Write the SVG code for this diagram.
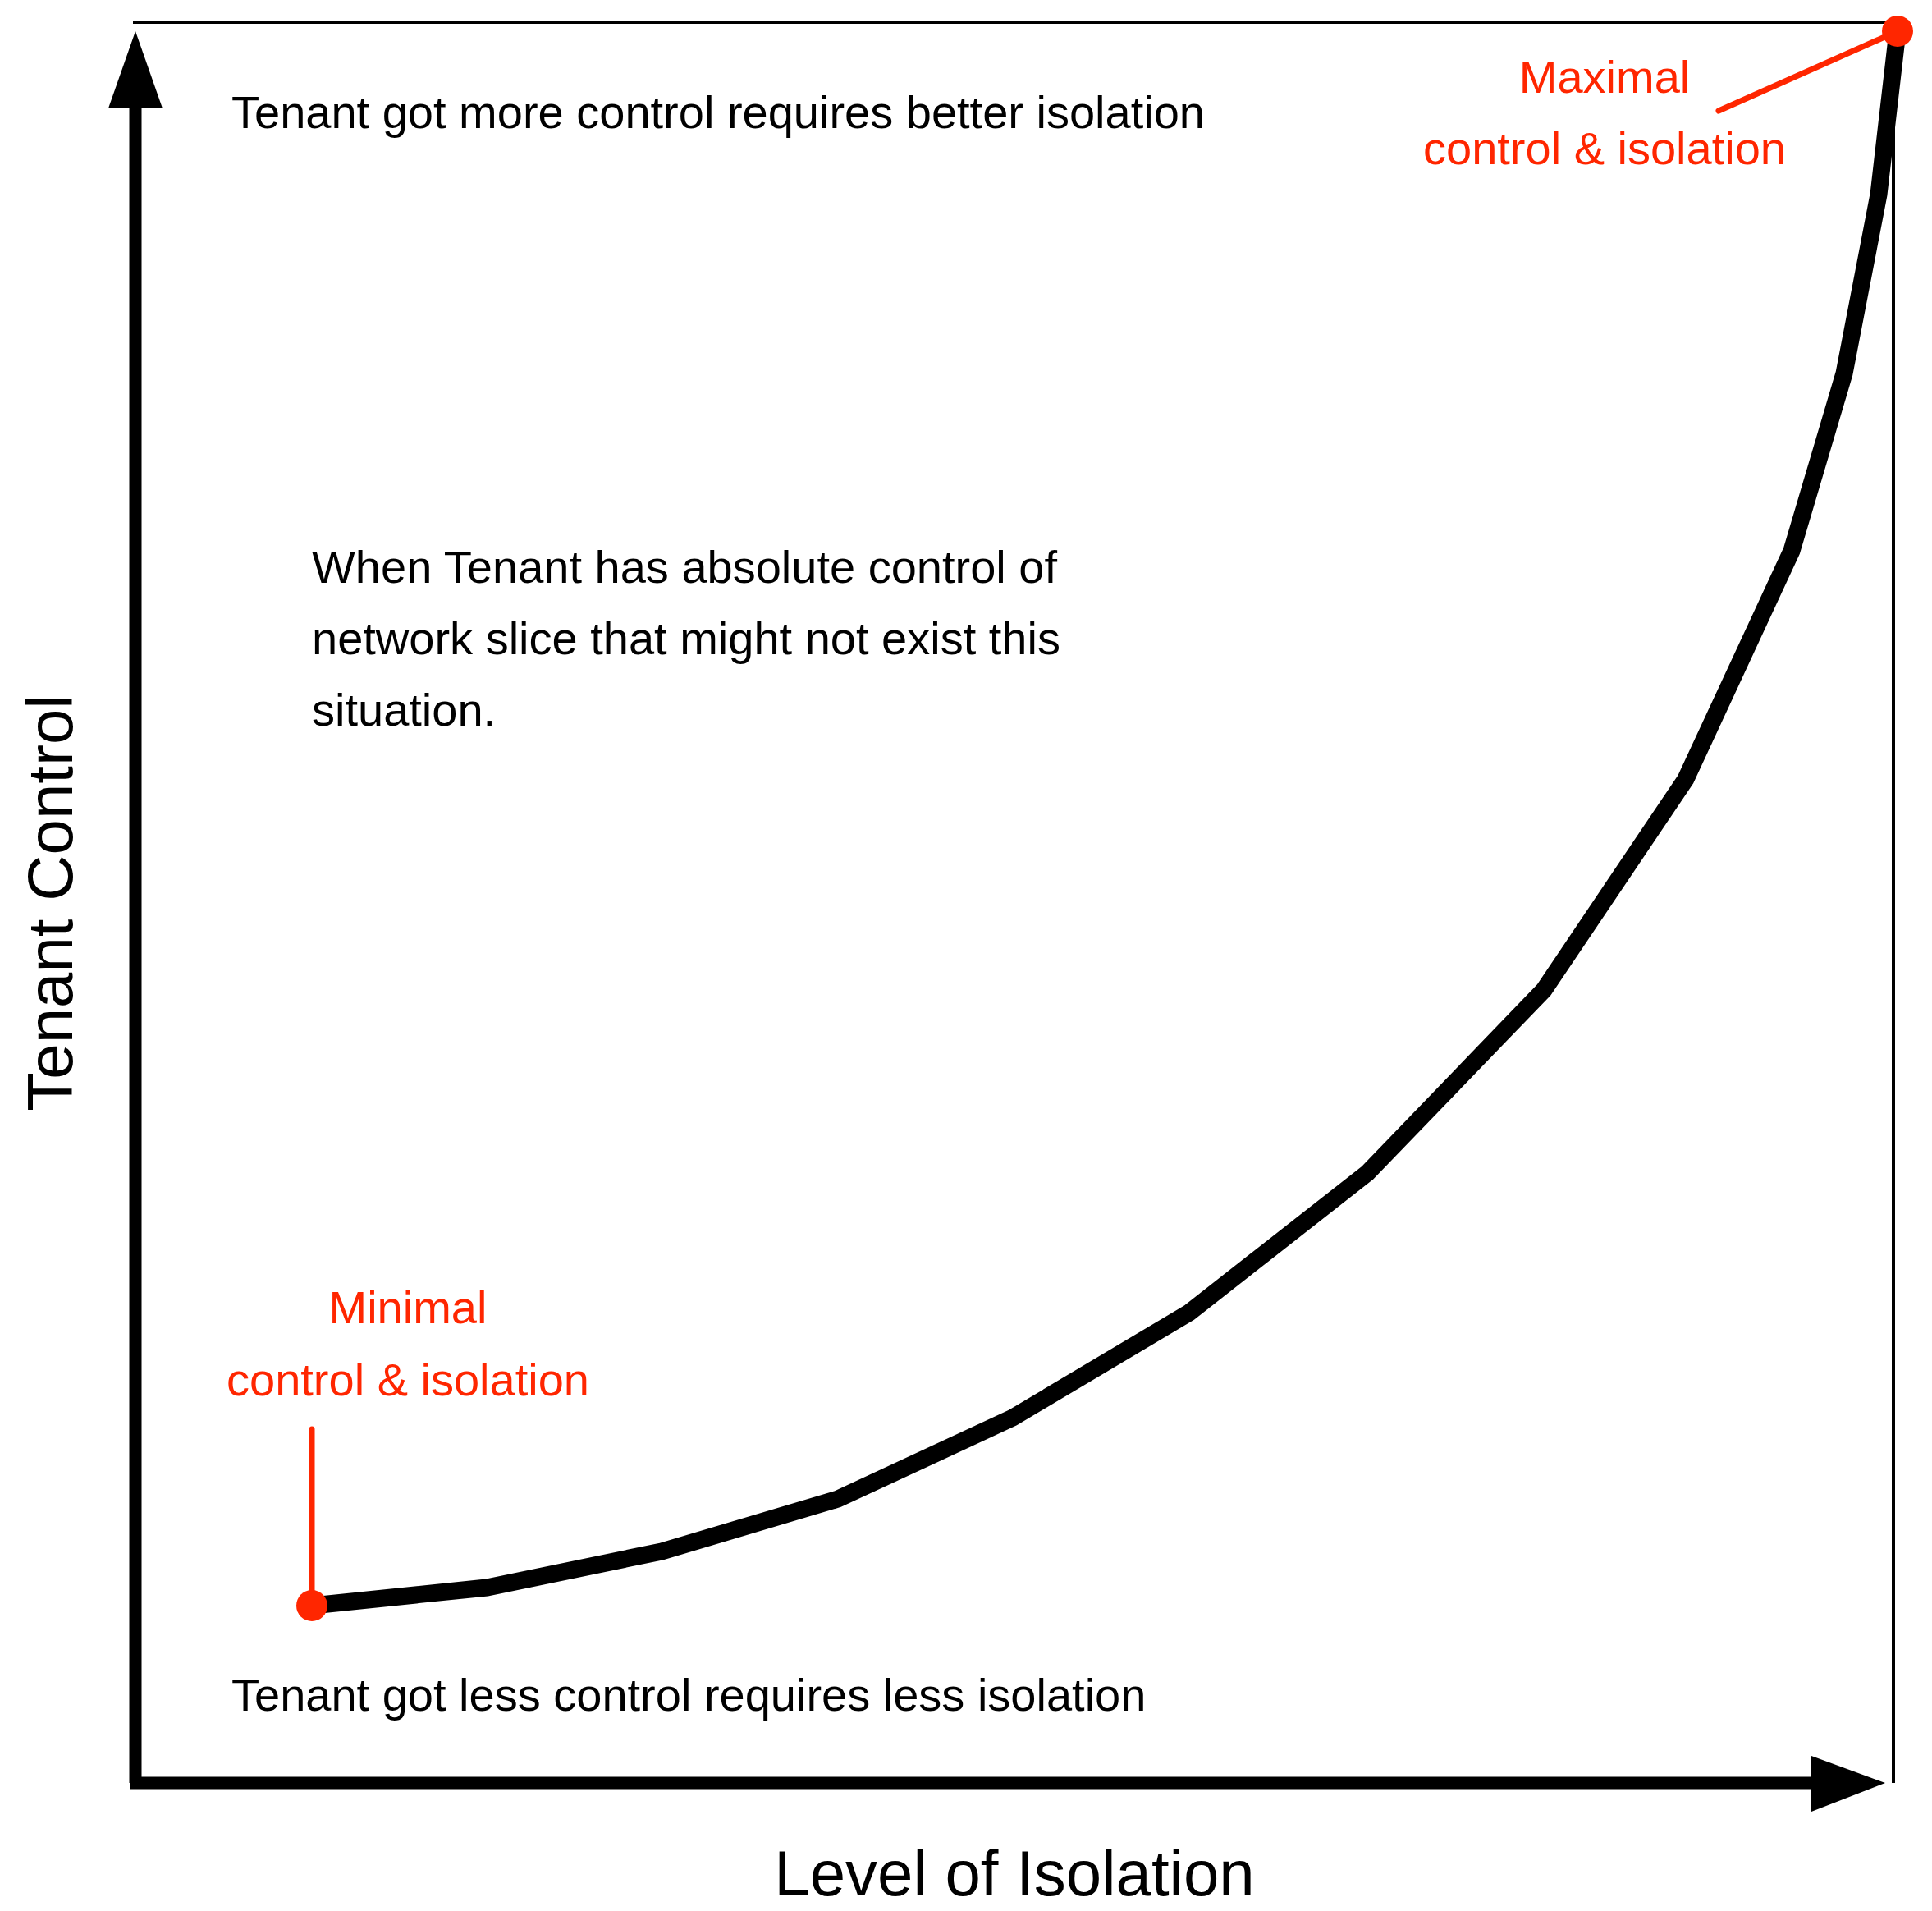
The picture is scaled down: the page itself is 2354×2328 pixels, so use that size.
<svg xmlns="http://www.w3.org/2000/svg" width="2354" height="2328" viewBox="0 0 2354 2328">
<style>
text{font-family:"Liberation Sans",Arial,sans-serif;}
.b{font-size:56px;fill:#000}
.r{font-size:56px;fill:#ff2600}
.big{font-size:78px;fill:#000}
</style>
<rect width="2354" height="2328" fill="#fff"/>
<g id="connectors">
<line x1="162" y1="27" x2="2312" y2="27" stroke="#000" stroke-width="4"/>
<line x1="2307" y1="27" x2="2307" y2="2172" stroke="#000" stroke-width="4"/>
<line x1="165" y1="2172" x2="165" y2="120" stroke="#000" stroke-width="15"/>
<polygon points="132,132 198,132 165,38" fill="#000"/>
<line x1="158" y1="2172" x2="2215" y2="2172" stroke="#000" stroke-width="15"/>
<polygon points="2207,2139 2207,2207 2297,2172" fill="#000"/>
<polyline points="380,1956 593,1934 806,1890 1021,1826 1234,1727 1449,1599 1666,1429 1881,1206 2054,949 2183,671 2247,455 2289,237 2312,38" fill="none" stroke="#000" stroke-width="21" stroke-linejoin="miter"/>
<line x1="380" y1="1741" x2="380" y2="1956" stroke="#ff2600" stroke-width="7" stroke-linecap="round"/>
<line x1="2094" y1="135" x2="2312" y2="38" stroke="#ff2600" stroke-width="7" stroke-linecap="round"/>
</g>
<g id="min-node"><circle cx="380" cy="1956" r="19" fill="#ff2600"/>
<text class="r" x="497" y="1612" text-anchor="middle">Minimal</text>
<text class="r" x="497" y="1700" text-anchor="middle">control &amp; isolation</text></g>
<g id="max-node"><circle cx="2312" cy="38" r="19" fill="#ff2600"/>
<text class="r" x="1955" y="113" text-anchor="middle">Maximal</text>
<text class="r" x="1955" y="200" text-anchor="middle">control &amp; isolation</text></g>
<g id="labels">
<text class="b" x="282" y="156">Tenant got more control requires better isolation</text>
<text class="b" x="380" y="710">When Tenant has absolute control of</text>
<text class="b" x="380" y="797">network slice that might not exist this</text>
<text class="b" x="380" y="884">situation.</text>
<text class="b" x="282" y="2084">Tenant got less control requires less isolation</text>
<text class="big" x="1236" y="2309" text-anchor="middle">Level of Isolation</text>
<text class="big" transform="translate(88,1100) rotate(-90)" text-anchor="middle">Tenant Control</text>
</g>
</svg>
